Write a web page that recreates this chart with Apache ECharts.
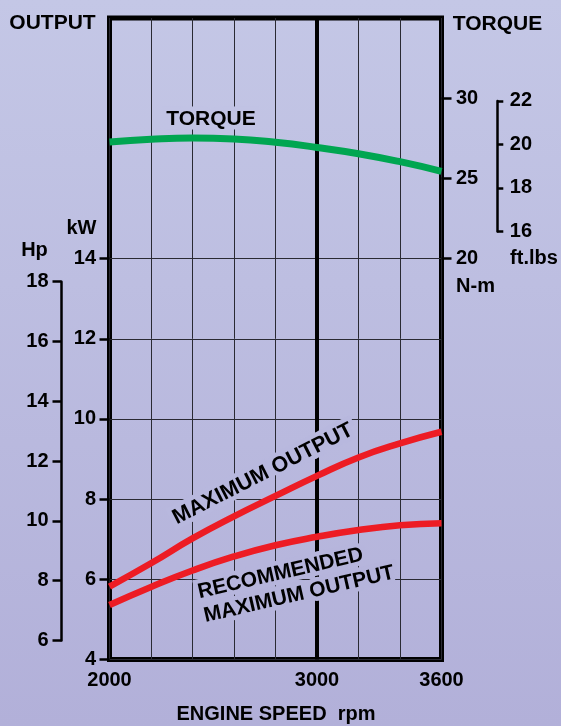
<!DOCTYPE html>
<html><head><meta charset="utf-8">
<script src="https://cdn.jsdelivr.net/npm/echarts@6/dist/echarts.min.js"></script>
<style>html,body{margin:0;padding:0;} #chart{width:561px;height:726px;background:linear-gradient(#C4C7E6,#B2B0D9);}</style>
</head><body><div id="chart"></div>
<script>
// ---- data ----
const rpm = [2000, 2200, 2400, 2600, 2800, 3000, 3200, 3400, 3600];
const torqueNm = [27.27, 27.44, 27.52, 27.46, 27.25, 26.93, 26.54, 26.04, 25.44];
const maxOutputKw = [5.82, 6.40, 7.02, 7.57, 8.08, 8.58, 9.04, 9.39, 9.68];
const recOutputKw = [5.36, 5.81, 6.22, 6.57, 6.85, 7.06, 7.23, 7.35, 7.40];
const rpmLabels = [2000, 3000, 3600];
const kwLabels = [4, 6, 8, 10, 12, 14];
const nmLabels = [20, 25, 30];
const hpLabels = [6, 8, 10, 12, 14, 16, 18];
const ftlbLabels = [16, 18, 20, 22];
const refRpm = 3000;

// ---- scales ----
const KW_MIN = 4, KW_MAX = 20;
const HP_KW = 0.7457, FTLB_NM = 1.35582;
const nmFromKw = k => 2.5 * k - 15;
const kwFromNm = n => (n + 15) / 2.5;

const W = 561, H = 726;
const plotL = 109.5, plotR = 441.5, plotT = 18, plotB = 659.5;
const yKw = k => plotB - (k - KW_MIN) / (KW_MAX - KW_MIN) * (plotB - plotT);

const hpTop = yKw(hpLabels[hpLabels.length - 1] * HP_KW), hpBot = yKw(hpLabels[0] * HP_KW);
const ftTop = yKw(kwFromNm(ftlbLabels[ftlbLabels.length - 1] * FTLB_NM)), ftBot = yKw(kwFromNm(ftlbLabels[0] * FTLB_NM));

const FONT = "'Liberation Sans', Arial, Helvetica, sans-serif";
const c0 = [196, 199, 230], c1 = [178, 176, 217];
function bgAt(y) {
  const t = y / H;
  const c = c0.map((v, i) => Math.round(v + (c1[i] - v) * t));
  return 'rgb(' + c.join(',') + ')';
}
const lbl = (extra) => Object.assign({ color: '#000', fontFamily: FONT, fontWeight: 'bold', fontSize: 20, formatter: v => String(v) }, extra || {});

function txt(text, x, y, size, opts) {
  opts = opts || {};
  return {
    type: 'text', x: x, y: y, z: 3,
    rotation: (opts.rot || 0) * Math.PI / 180,
    style: Object.assign({
      text: text, fill: '#000', font: 'bold ' + size + 'px ' + FONT,
      align: opts.align || 'center', verticalAlign: 'middle'
    }, opts.halo ? { stroke: bgAt(y), lineWidth: 9 } : {})
  };
}

const chart = echarts.init(document.getElementById('chart'), null, { renderer: 'canvas' });
chart.setOption({
  backgroundColor: 'transparent',
  animation: false,
  grid: [
    { left: plotL, right: W - plotR, top: plotT, bottom: H - plotB, show: true, borderColor: '#000', borderWidth: 5, backgroundColor: 'transparent', containLabel: false, outerBoundsMode: 'none' },
    { left: 61.5, width: 1, top: hpTop, height: hpBot - hpTop, containLabel: false, outerBoundsMode: 'none' },
    { left: 496.3, width: 1, top: ftTop, height: ftBot - ftTop, containLabel: false, outerBoundsMode: 'none' }
  ],
  xAxis: [
    { type: 'value', gridIndex: 0, min: rpm[0], max: rpm[rpm.length - 1], interval: 200,
      axisLine: { show: false, onZero: false }, axisTick: { show: false },
      axisLabel: { customValues: rpmLabels, margin: 11, ...lbl() },
      splitLine: { show: true, lineStyle: { color: '#2a2a33', width: 1 } } },
    { type: 'value', gridIndex: 1, show: false, min: 0, max: 1 },
    { type: 'value', gridIndex: 2, show: false, min: 0, max: 1 }
  ],
  yAxis: [
    { type: 'value', gridIndex: 0, position: 'left', min: KW_MIN, max: KW_MAX, interval: 2,
      axisLine: { show: false, onZero: false },
      axisTick: { show: true, customValues: kwLabels, length: 10, lineStyle: { color: '#000', width: 2.5 } },
      axisLabel: { customValues: kwLabels, margin: 13.5, ...lbl() },
      splitLine: { show: true, lineStyle: { color: '#2a2a33', width: 1 } } },
    { type: 'value', gridIndex: 0, position: 'right', min: nmFromKw(KW_MIN), max: nmFromKw(KW_MAX), interval: 5,
      axisLine: { show: false, onZero: false },
      axisTick: { show: true, customValues: nmLabels, length: 10, lineStyle: { color: '#000', width: 2.5 } },
      axisLabel: { customValues: nmLabels, margin: 14.5, ...lbl() },
      splitLine: { show: false } },
    { type: 'value', gridIndex: 1, position: 'left', min: hpLabels[0], max: hpLabels[hpLabels.length - 1], interval: 2,
      axisLine: { show: true, onZero: false, lineStyle: { color: '#000', width: 2.5 } },
      axisTick: { show: true, length: 9, lineStyle: { color: '#000', width: 2.5 } },
      axisLabel: { margin: 13, ...lbl() },
      splitLine: { show: false } },
    { type: 'value', gridIndex: 2, position: 'right', min: ftlbLabels[0], max: ftlbLabels[ftlbLabels.length - 1], interval: 2,
      axisLine: { show: true, onZero: false, lineStyle: { color: '#000', width: 2.5 } },
      axisTick: { show: true, length: 6, lineStyle: { color: '#000', width: 2.5 } },
      axisLabel: { margin: 12.5, ...lbl() },
      splitLine: { show: false } }
  ],
  series: [
    { type: 'line', name: 'ref', xAxisIndex: 0, yAxisIndex: 0, z: 1, symbol: 'none', silent: true,
      data: [[refRpm, KW_MIN], [refRpm, KW_MAX]], lineStyle: { color: '#000', width: 4 } },
    { type: 'line', name: 'TORQUE', xAxisIndex: 0, yAxisIndex: 1, z: 5, symbol: 'none', smooth: 0.5,
      data: rpm.map((r, i) => [r, torqueNm[i]]), lineStyle: { color: '#00A651', width: 7 } },
    { type: 'line', name: 'MAXIMUM OUTPUT', xAxisIndex: 0, yAxisIndex: 0, z: 5, symbol: 'none', smooth: 0.5,
      data: rpm.map((r, i) => [r, maxOutputKw[i]]), lineStyle: { color: '#ED1C24', width: 6.5 } },
    { type: 'line', name: 'RECOMMENDED MAXIMUM OUTPUT', xAxisIndex: 0, yAxisIndex: 0, z: 5, symbol: 'none', smooth: 0.5,
      data: rpm.map((r, i) => [r, recOutputKw[i]]), lineStyle: { color: '#ED1C24', width: 6.5 } }
  ],
  graphic: [
    txt('OUTPUT', 52.5, 23.5, 21),
    txt('TORQUE', 497.5, 24.5, 21),
    txt('kW', 81.5, 228.5, 20),
    txt('Hp', 34.5, 250, 20),
    txt('ft.lbs', 534, 258, 20),
    txt('N-m', 475.5, 286.5, 20),
    txt('ENGINE SPEED  rpm', 276, 714, 20),
    txt('TORQUE', 211, 119, 21, { halo: true }),
    txt('MAXIMUM OUTPUT', 263, 474, 21.5, { halo: true, rot: 27 }),
    txt('RECOMMENDED', 280.5, 573.5, 21, { halo: true, rot: 13 }),
    txt('MAXIMUM OUTPUT', 299, 594.5, 21, { halo: true, rot: 13 })
  ]
});
</script></body></html>
